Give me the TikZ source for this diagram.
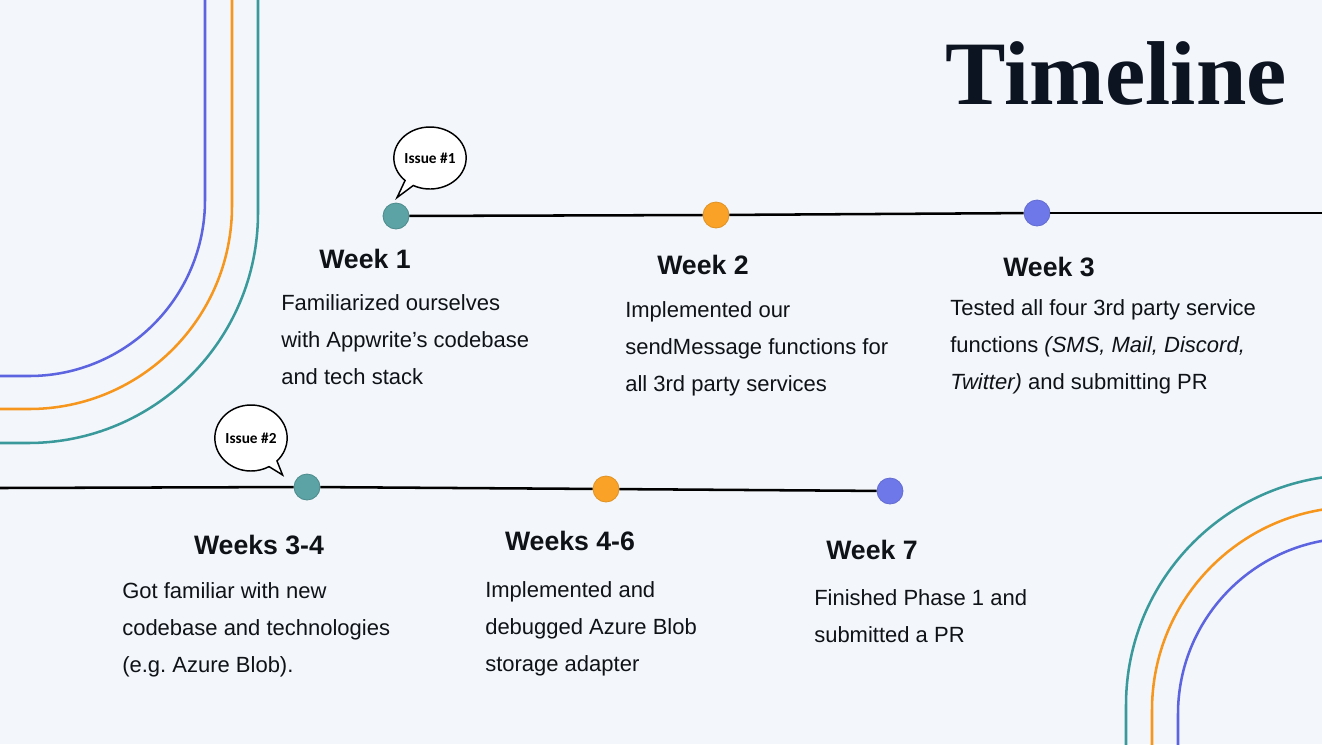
\documentclass[tikz,border=0pt]{standalone}
\usepackage{fontspec}
\setmainfont{Liberation Sans}
\newfontfamily\titlefont{Liberation Serif}
\newfontfamily\bubblefont{Carlito}
\usepackage{xcolor}
\usetikzlibrary{shapes.callouts, calc}

\definecolor{bgcol}{HTML}{F3F6FA}
\definecolor{inkc}{HTML}{0F1217}
\definecolor{titlec}{HTML}{0D1421}
\definecolor{tealc}{HTML}{3A9A9B}
\definecolor{orangec}{HTML}{F7961D}
\definecolor{bluec}{HTML}{5D64E0}
\definecolor{tealdot}{HTML}{5BA3A5}
\definecolor{orangedot}{HTML}{F9A227}
\definecolor{bluedot}{HTML}{6E78E8}

\tikzstyle{dot} = [circle, minimum size=19.5pt, inner sep=0pt, line width=0.6pt]
\tikzstyle{week} = [font=\bfseries\fontsize{20}{24}\selectfont, text=inkc, inner sep=0pt]
\tikzstyle{desc} = [font=\fontsize{16.5}{27.75}\selectfont, text=inkc,
  align=left, anchor=north west, inner sep=0pt]
\tikzstyle{bubble} = [ellipse callout, draw=black, fill=white, line width=1.1pt,
  font=\bubblefont\bfseries\fontsize{11.5}{13}\selectfont, text=black,
  inner sep=0pt, callout pointer arc=16]
\tikzstyle{track} = [line width=1.9pt, black]
\tikzstyle{deco} = [line width=1.9pt]

\begin{document}
\begin{tikzpicture}[x=0.75pt, y=-0.75pt]

  % Background
  \fill[bgcol] (0,0) rectangle (1322,744);
  \useasboundingbox (0,0) rectangle (1322,744);

  % Corner stripes
  \begin{scope}
    \clip (0,0) rectangle (1322,744);
    \draw[deco, bluec, rounded corners=132pt] (205,-5) -- (205,376) -- (-5,376);
    \draw[deco, orangec, rounded corners=152.25pt] (232,-5) -- (232,409) -- (-5,409);
    \draw[deco, tealc, rounded corners=172.5pt] (258,-5) -- (258,443) -- (-5,443);
    \draw[deco, tealc, rounded corners=172.5pt] (1126,750) -- (1126,475) -- (1420,475);
    \draw[deco, orangec, rounded corners=152.25pt] (1152,750) -- (1152,507) -- (1420,507);
    \draw[deco, bluec, rounded corners=132pt] (1178,750) -- (1178,538) -- (1420,538);
  \end{scope}

  % Title
  \node[anchor=base east, inner sep=0pt, text=titlec,
        font=\titlefont\bfseries\fontsize{68}{70}\selectfont] (title) at (1287,104) {Timeline};

  % Upper track
  \node[dot, fill=tealdot, draw=tealdot!85!black] (d1) at (396,216) {};
  \node[dot, fill=orangedot, draw=orangedot!90!black] (d2) at (716,215) {};
  \node[dot, fill=bluedot, draw=bluedot!90!black] (d3) at (1037,213) {};
  \coordinate (end1) at (1322,213);
  \draw[track] (d1) -- (d2);
  \draw[track] (d2) -- (d3);
  \draw[track] (d3) -- (end1);

  % Lower track
  \coordinate (start2) at (0,488);
  \node[dot, fill=tealdot, draw=tealdot!85!black] (d4) at (307,487) {};
  \node[dot, fill=orangedot, draw=orangedot!90!black] (d5) at (606,489) {};
  \node[dot, fill=bluedot, draw=bluedot!90!black] (d6) at (890,491) {};
  \draw[track] (start2) -- (d4);
  \draw[track] (d4) -- (d5);
  \draw[track] (d5) -- (d6);

  % Issue bubbles
  \node[bubble, minimum width=54pt, minimum height=46.5pt,
        callout absolute pointer={($(d1.north)+(1,-5)$)}] (issue1) at (430,158) {Issue \#1};
  \node[bubble, minimum width=49.5pt, minimum height=49.5pt,
        callout absolute pointer={($(d4.west)+(-11,-12)$)}] (issue2) at (251,438) {Issue \#2};

  % Weeks
  \node[week] (w1) at (365,259) {Week 1};
  \node[week] (w2) at (703,265) {Week 2};
  \node[week] (w3) at (1049,267) {Week 3};
  \node[week] (w4) at (259,545) {Weeks 3-4};
  \node[week] (w5) at (570,541) {Weeks 4-6};
  \node[week] (w6) at (872,550) {Week 7};

  % Descriptions
  \node[desc] (t1) at (281,294) {Familiarized ourselves\\with Appwrite’s codebase\\and tech stack};
  \node[desc] (t2) at (625,301) {Implemented our\\sendMessage functions for\\all 3rd party services};
  \node[desc] (t3) at (950,299) {Tested all four 3rd party service\\functions \textit{(SMS, Mail, Discord,}\\\textit{Twitter)} and submitting PR};
  \node[desc] (t4) at (122,582) {Got familiar with new\\codebase and technologies\\(e.g.\ Azure Blob).};
  \node[desc] (t5) at (485,581) {Implemented and\\debugged Azure Blob\\storage adapter};
  \node[desc] (t6) at (814,589) {Finished Phase 1 and\\submitted a PR};

\end{tikzpicture}
\end{document}
